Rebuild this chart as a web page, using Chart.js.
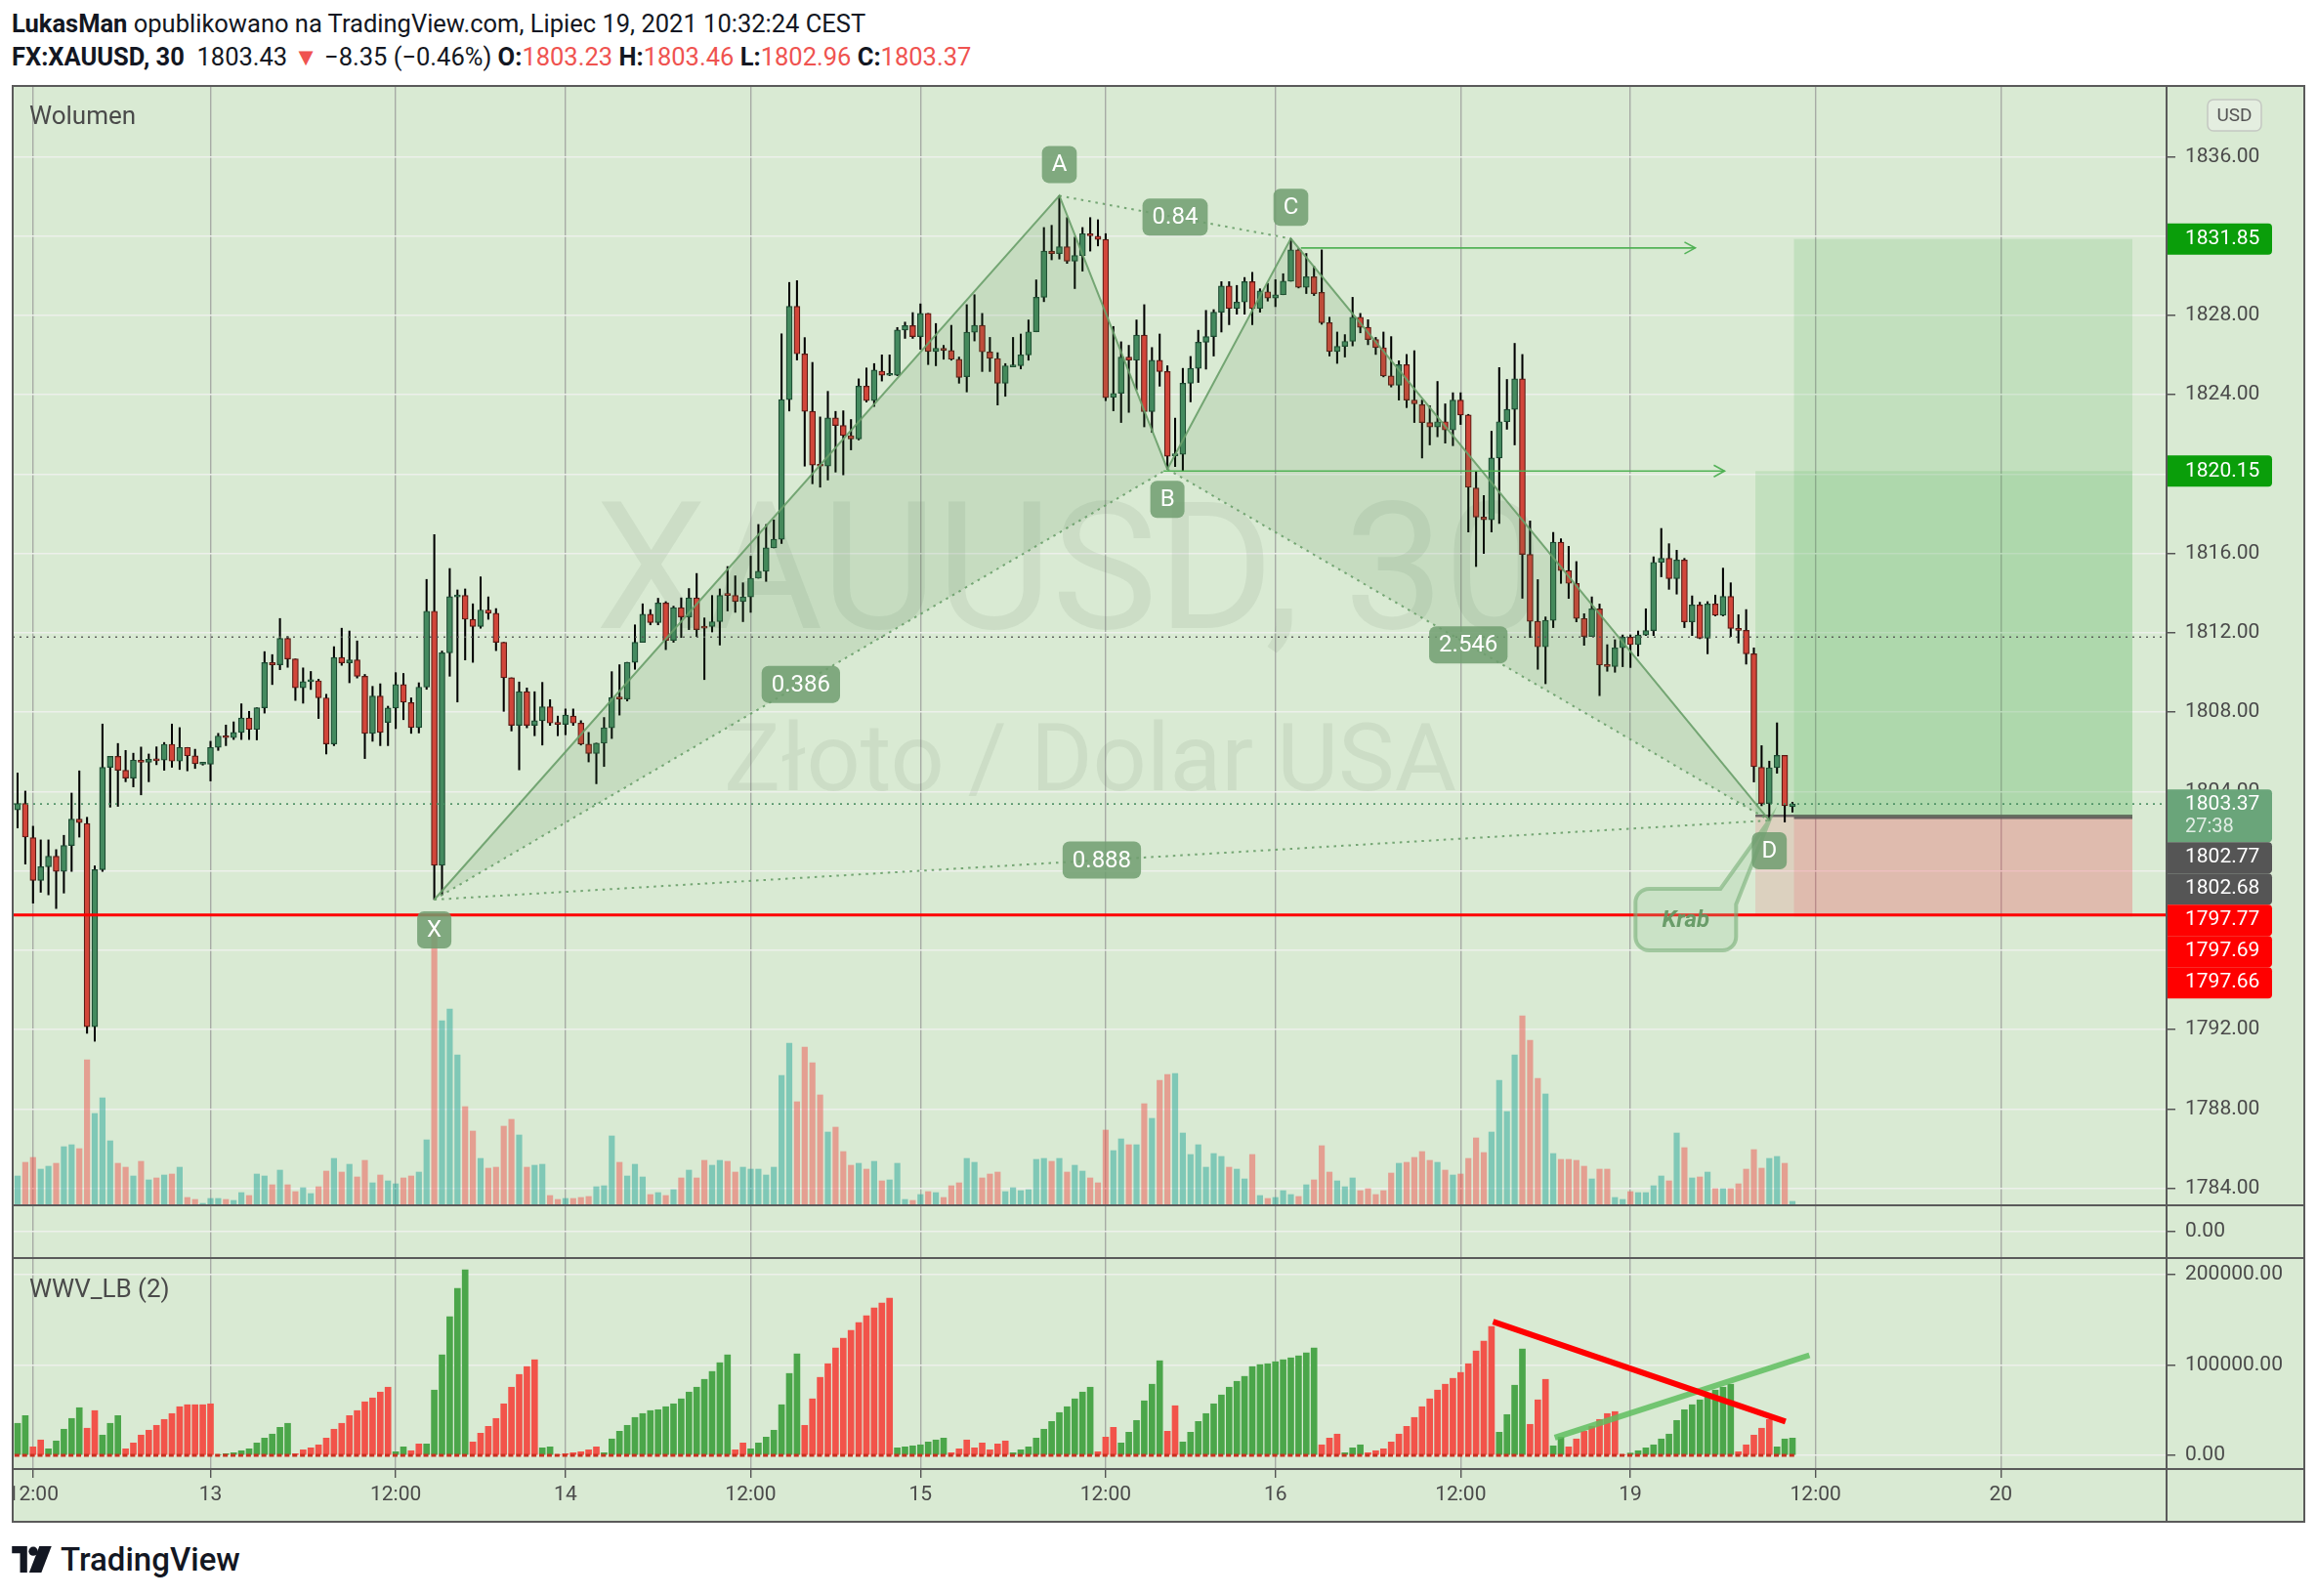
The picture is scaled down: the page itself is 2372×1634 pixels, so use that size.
<!DOCTYPE html>
<html><head><meta charset="utf-8">
<script src="https://cdn.jsdelivr.net/npm/chart.js@4.4.0/dist/chart.umd.min.js"></script>
<style>
html,body{margin:0;padding:0;background:#fff;}
body{width:2372px;height:1634px;position:relative;overflow:hidden;font-family:Roboto,"Liberation Sans",sans-serif;}
canvas{position:absolute;}
.hdr{position:absolute;left:12px;font-size:25.5px;line-height:32px;color:#131722;white-space:nowrap;}
.hdr b{font-weight:700;}
.red{color:#ef5350;}
.ln{position:absolute;background:#5a5a5a;}
#logo{position:absolute;left:12px;top:1578px;height:36px;display:flex;align-items:center;font-size:33px;font-weight:500;color:#131722;}
</style></head><body>
<div class="hdr" style="top:8px"><b>LukasMan</b> opublikowano na TradingView.com, Lipiec 19, 2021 10:32:24 CEST</div>
<div class="hdr" id="hdr2" style="top:42px"></div>

<canvas id="cMain" width="2346" height="1146" style="left:13px;top:88px"></canvas>
<canvas id="cEmpty" width="2346" height="54" style="left:13px;top:1234px"></canvas>
<canvas id="cWwv" width="2346" height="270" style="left:13px;top:1288px"></canvas>

<div class="ln" style="left:12px;top:87px;width:2348px;height:2px"></div>
<div class="ln" style="left:12px;top:1557px;width:2348px;height:2px"></div>
<div class="ln" style="left:12px;top:87px;width:2px;height:1472px"></div>
<div class="ln" style="left:2358px;top:87px;width:2px;height:1472px"></div>
<div class="ln" style="left:2217px;top:87px;width:2px;height:1472px"></div>
<div class="ln" style="left:12px;top:1233px;width:2348px;height:2px"></div>
<div class="ln" style="left:12px;top:1287px;width:2348px;height:2px"></div>
<div class="ln" style="left:12px;top:1503px;width:2348px;height:2px"></div>

<div id="logo"><svg width="42" height="27" viewBox="0 0 40 26" style="margin-right:8px"><path d="M0 0h15v26H8V7H0z" fill="#131722"/><circle cx="21" cy="5" r="4.5" fill="#131722"/><path d="M27 0h12L29 26H17z" fill="#131722"/></svg>TradingView</div>

<script>
// ---------------- DATA ----------------
const openP = [1803.07,1803.40,1801.67,1799.52,1800.21,1800.74,1799.97,1801.28,1802.61,1802.39,
1792.14,1800.06,1805.22,1805.77,1805.07,1804.67,1805.58,1805.47,1805.62,1805.58,
1806.38,1805.53,1806.22,1805.80,1805.38,1805.38,1806.22,1806.80,1806.71,1806.98,
1807.70,1807.13,1808.22,1810.50,1810.39,1811.72,1810.68,1809.23,1809.54,1809.58,
1808.72,1806.40,1810.76,1810.48,1810.63,1809.81,1806.93,1808.81,1807.48,1808.21,
1809.39,1808.48,1807.22,1809.26,1813.09,1800.28,1810.99,1813.81,1813.88,1812.68,
1812.32,1813.15,1812.98,1811.52,1809.73,1807.33,1809.03,1807.33,1807.57,1808.27,
1807.45,1807.38,1807.80,1807.45,1806.39,1805.92,1806.44,1807.21,1808.74,1808.66,
1810.51,1811.52,1812.94,1812.51,1813.50,1811.62,1813.27,1812.80,1813.76,1812.32,
1812.32,1812.56,1813.93,1813.88,1813.57,1813.81,1814.75,1815.10,1816.28,1816.71,
1823.75,1828.46,1826.06,1823.16,1820.45,1820.40,1822.83,1822.45,1821.94,1821.77,
1824.43,1823.70,1825.19,1824.98,1824.98,1827.26,1827.48,1826.93,1828.10,1826.18,
1826.34,1826.23,1825.79,1824.91,1827.15,1827.50,1826.16,1825.83,1824.58,1825.40,
1825.46,1826.01,1827.17,1828.91,1831.24,1831.11,1831.46,1830.73,1831.02,1832.12,
1831.99,1831.83,1823.87,1824.07,1825.90,1825.74,1827.00,1823.15,1825.74,1825.17,
1820.92,1821.00,1824.58,1825.33,1826.65,1826.93,1828.16,1829.48,1828.35,1828.67,
1829.70,1828.35,1829.19,1828.87,1829.04,1829.72,1831.30,1829.42,1829.95,1829.16,
1827.63,1826.18,1826.44,1826.69,1827.91,1827.40,1826.78,1826.37,1824.95,1824.48,
1825.52,1823.73,1823.50,1822.60,1822.37,1822.64,1822.22,1823.73,1822.98,1819.30,
1817.83,1817.70,1820.81,1822.64,1823.26,1824.80,1815.95,1812.58,1811.29,1812.63,
1816.57,1815.14,1814.49,1812.72,1811.81,1813.21,1810.38,1810.30,1811.24,1811.78,
1811.40,1811.89,1812.11,1815.55,1815.75,1814.73,1815.67,1812.55,1813.40,1811.73,
1813.45,1812.88,1813.83,1812.22,1812.12,1810.94,1805.22,1803.39,1805.20,1805.82,
1803.23];
const highP = [1804.93,1804.02,1802.25,1801.56,1801.56,1801.07,1801.79,1803.92,1805.04,1802.70,
1800.25,1807.40,1805.77,1806.42,1806.07,1805.93,1806.24,1805.89,1806.25,1806.47,
1807.40,1807.22,1806.22,1806.13,1805.45,1806.53,1806.93,1807.35,1807.51,1808.42,
1808.04,1808.22,1811.05,1810.90,1812.72,1811.81,1810.68,1810.23,1810.05,1809.66,
1808.90,1811.30,1812.23,1812.09,1811.59,1809.90,1809.30,1809.43,1808.30,1809.99,
1809.95,1808.72,1809.48,1814.69,1816.95,1811.08,1815.24,1814.16,1814.21,1813.46,
1814.82,1813.81,1813.22,1811.52,1809.73,1809.52,1809.22,1809.03,1809.50,1808.63,
1807.80,1808.16,1808.16,1807.57,1806.98,1806.44,1807.73,1810.04,1810.39,1810.51,
1812.40,1813.46,1813.17,1813.74,1813.57,1813.34,1813.76,1814.23,1814.99,1812.75,
1813.88,1814.21,1815.34,1814.87,1814.52,1815.86,1817.46,1817.46,1817.69,1827.07,
1829.66,1829.75,1826.88,1825.63,1822.88,1824.17,1823.16,1823.19,1822.75,1824.80,
1825.35,1825.57,1826.01,1826.01,1827.39,1827.66,1828.14,1828.58,1828.10,1827.59,
1826.49,1827.50,1825.90,1828.54,1829.04,1828.10,1826.89,1826.12,1825.57,1826.89,
1827.06,1827.77,1829.79,1832.43,1832.54,1834.03,1832.93,1831.94,1832.43,1832.93,
1832.82,1832.12,1827.44,1826.67,1826.49,1827.77,1828.54,1826.38,1827.06,1825.46,
1822.82,1825.33,1825.93,1827.25,1828.25,1828.29,1829.70,1829.70,1829.51,1829.91,
1830.17,1829.34,1829.61,1829.80,1830.10,1831.87,1831.36,1831.12,1830.47,1831.30,
1827.91,1827.16,1827.03,1828.91,1828.10,1827.78,1826.89,1827.16,1826.93,1825.71,
1826.03,1826.22,1823.73,1823.45,1824.67,1823.54,1824.10,1824.10,1823.01,1820.15,
1818.92,1822.16,1825.37,1824.77,1826.59,1826.03,1817.64,1814.68,1812.80,1817.06,
1816.74,1816.36,1815.59,1812.96,1813.81,1813.45,1811.40,1811.65,1811.89,1811.89,
1812.09,1813.21,1815.83,1817.26,1816.49,1816.16,1815.75,1813.86,1813.54,1813.57,
1813.90,1815.26,1814.52,1812.91,1813.17,1811.24,1806.31,1805.53,1807.46,1805.82,
1803.46];
const lowP = [1802.16,1800.34,1798.37,1798.92,1798.79,1798.10,1798.88,1799.97,1801.70,1791.81,
1791.41,1799.97,1803.21,1803.25,1804.49,1804.23,1803.83,1804.49,1805.35,1805.07,
1805.22,1805.11,1805.04,1805.16,1805.33,1804.53,1806.07,1806.31,1806.62,1806.62,
1806.62,1806.60,1807.95,1809.39,1810.14,1810.26,1808.59,1808.45,1809.14,1807.68,
1805.89,1806.31,1810.36,1809.48,1809.72,1805.66,1806.53,1806.31,1806.31,1807.17,
1807.62,1806.93,1806.95,1809.15,1798.55,1798.79,1809.81,1808.51,1810.63,1810.51,
1812.23,1812.68,1811.10,1808.04,1807.05,1805.09,1807.21,1806.81,1806.34,1807.33,
1806.81,1806.86,1807.33,1806.34,1805.49,1804.39,1805.26,1806.67,1807.85,1808.56,
1810.16,1811.52,1812.40,1812.40,1811.15,1811.52,1811.76,1812.16,1811.81,1809.64,
1812.04,1811.38,1813.10,1813.03,1812.56,1813.03,1814.75,1814.59,1816.28,1816.50,
1823.18,1825.75,1820.40,1819.51,1819.34,1819.70,1820.10,1819.96,1821.22,1821.72,
1823.63,1823.41,1824.69,1824.96,1824.96,1826.84,1826.84,1826.29,1825.52,1825.46,
1825.79,1825.74,1824.58,1824.14,1826.71,1825.17,1825.17,1823.48,1823.92,1825.40,
1825.30,1825.74,1827.17,1828.69,1830.80,1830.84,1830.62,1829.35,1830.23,1831.24,
1831.50,1823.70,1823.19,1822.60,1823.11,1824.25,1822.38,1822.10,1824.43,1820.25,
1820.38,1820.15,1823.64,1824.62,1825.29,1825.95,1827.16,1827.53,1828.06,1828.06,
1827.53,1828.16,1828.72,1828.44,1829.04,1829.72,1829.38,1829.10,1829.00,1827.55,
1825.95,1825.58,1825.90,1826.46,1827.12,1826.52,1826.03,1824.90,1824.39,1823.73,
1823.35,1822.60,1820.81,1821.47,1821.88,1821.56,1821.43,1822.50,1817.08,1815.34,
1816.00,1817.08,1817.51,1822.26,1821.47,1813.74,1811.76,1810.16,1809.43,1812.26,
1814.49,1813.73,1812.55,1811.37,1811.81,1808.83,1810.06,1810.01,1810.29,1810.25,
1810.83,1811.86,1811.86,1814.82,1814.19,1813.95,1812.26,1811.86,1811.70,1810.94,
1812.85,1812.85,1811.81,1811.48,1810.42,1804.48,1803.28,1802.54,1804.92,1802.46,
1802.96];
const closeP = [1803.40,1801.70,1799.52,1800.21,1800.74,1799.97,1801.28,1802.61,1802.43,1792.14,
1800.06,1805.22,1805.77,1805.07,1804.67,1805.58,1805.47,1805.62,1805.55,1806.38,
1805.53,1806.22,1805.80,1805.40,1805.40,1806.22,1806.80,1806.71,1806.98,1807.70,
1807.13,1808.22,1810.50,1810.39,1811.72,1810.68,1809.23,1809.54,1809.58,1808.72,
1806.40,1810.76,1810.48,1810.63,1809.81,1806.93,1808.81,1806.98,1808.21,1809.39,
1808.50,1807.22,1809.26,1813.09,1800.28,1810.99,1813.82,1813.88,1812.68,1812.32,
1813.15,1812.98,1811.52,1809.73,1807.33,1809.03,1807.33,1807.57,1808.27,1807.45,
1807.38,1807.85,1807.45,1806.39,1805.92,1806.44,1807.21,1808.74,1808.66,1810.51,
1811.52,1812.94,1812.51,1813.50,1811.62,1813.27,1812.80,1813.76,1812.16,1812.23,
1812.56,1813.88,1813.88,1813.57,1813.81,1814.75,1815.10,1816.28,1816.71,1823.75,
1828.46,1826.06,1823.16,1820.45,1820.40,1822.83,1822.45,1821.94,1821.77,1824.43,
1823.70,1825.24,1824.98,1825.02,1827.26,1827.48,1826.93,1828.10,1826.18,1826.34,
1826.23,1825.79,1824.87,1827.15,1827.50,1826.16,1825.83,1824.58,1825.46,1825.46,
1826.01,1827.17,1828.91,1831.24,1831.11,1831.46,1830.73,1831.02,1832.12,1832.01,
1831.83,1823.85,1824.07,1825.90,1825.74,1827.00,1823.15,1825.74,1825.17,1820.90,
1821.00,1824.58,1825.33,1826.65,1826.93,1828.16,1829.48,1828.35,1828.67,1829.70,
1828.35,1829.23,1828.87,1829.04,1829.72,1831.30,1829.42,1829.95,1829.10,1827.63,
1826.18,1826.44,1826.69,1827.91,1827.40,1826.78,1826.37,1824.95,1824.48,1825.52,
1823.73,1823.54,1822.60,1822.37,1822.64,1822.22,1823.73,1822.98,1819.34,1817.83,
1817.70,1820.81,1822.64,1823.26,1824.80,1815.95,1812.58,1811.29,1812.63,1816.57,
1815.14,1814.49,1812.72,1811.81,1813.21,1810.38,1810.30,1811.24,1811.78,1811.40,
1811.89,1812.11,1815.55,1815.75,1814.73,1815.67,1812.55,1813.40,1811.73,1813.45,
1812.88,1813.83,1812.22,1812.12,1810.94,1805.25,1803.39,1805.20,1805.82,1803.28,
1803.37];
const volume = [900,1320,1470,1110,1200,1290,1800,1860,1740,4470,
2820,3300,1980,1290,1170,900,1350,780,840,930,
960,1170,240,180,60,210,210,180,150,390,
300,960,900,630,1080,630,420,540,360,570,
1050,1440,1020,1260,870,1380,690,930,750,660,
840,900,1020,2010,8520,5670,6030,4620,3030,2280,
1440,1140,1170,2430,2640,2160,1170,1230,1260,300,
180,210,210,240,270,570,600,2130,1320,900,
1260,870,330,390,300,480,840,1080,840,1380,
1230,1380,1350,1020,1170,1110,1110,930,1170,3990,
4980,3180,4860,4380,3390,2250,2400,1650,1230,1290,
1110,1350,750,780,1290,180,150,330,420,390,
240,600,690,1440,1320,840,960,1020,420,540,
450,480,1410,1440,1350,1440,1020,1230,1050,840,
690,2310,1680,2040,1860,1860,3120,2670,3840,4020,
4050,2220,1560,1860,1170,1590,1500,1170,1110,810,
1560,300,210,240,450,330,270,630,780,1830,
1020,750,570,840,450,510,330,450,990,1290,
1320,1470,1650,1380,1320,1080,930,960,1440,2070,
1620,2250,3840,2880,4620,5820,5070,3900,3420,1590,
1410,1410,1380,1200,810,1110,1110,240,180,420,
390,390,600,900,750,2220,1770,840,870,1020,
510,510,510,660,1110,1710,1140,1440,1500,1290,
120];
// WWV_LB (2): sign = wave direction (+ up / - down), magnitude = wave volume
const wwv = [35400,44000,-9400,-17000,7200,15900,28900,40800,52700,-30000,
-49500,22400,35400,44000,-7200,-13700,-22400,-27800,-33200,-39700,
-46200,-53800,-56000,-56000,-56000,-57000,700,1800,2900,5100,
7200,13700,19100,23500,31000,35400,-1800,-6100,-8300,-11600,
-19100,-28900,-35400,-44000,-49500,-59200,-63500,-70000,-75400,4000,
9400,-5100,-12600,12600,72200,111200,153400,184800,205400,-14800,
-24500,-32100,-40800,-57000,-75400,-89500,-98200,-105800,8300,9400,
-700,-1800,-2900,-4000,-6100,-9400,2900,18100,26700,33200,
41900,46200,49500,50500,53800,57000,62500,70000,75400,84100,
92800,102500,111200,-6100,-13700,7200,13700,20200,27800,56000,
90600,112300,-33200,-62500,-86300,-101400,-118800,-129600,-138300,-146900,
-154500,-163200,-168600,-174000,8300,9400,10500,11600,14800,17000,
19100,-2900,-7200,-17000,-8300,-13700,-6100,-12600,-15900,2900,
6100,9400,19100,28900,37500,47300,53800,62500,70000,75400,
-4000,-20200,-31000,13700,25600,38600,60300,78700,104700,-26700,
-54900,14800,25600,37500,46200,57000,66800,75400,81900,87400,
98200,100400,101400,103600,105800,107900,110100,113400,118800,-11600,
-19100,-23500,2900,8300,11600,-2900,-5100,-7200,-14800,-23500,
-32100,-41900,-53800,-62500,-72200,-78700,-85200,-91700,-101400,-115500,
-126400,-142600,25600,45100,77600,117700,-34300,-61400,-84100,10500,
20200,-9400,-18100,-26700,-32100,-39700,-46200,-48400,-700,2500,
5100,8300,11600,18100,23500,38600,50500,56000,61400,66800,
72200,75400,78700,-4000,-11600,-22400,-30000,-39700,9400,18100,
19100];

// time axis (bar index -> label)
const xTickIdx = [2,25,49,71,95,117,141,163,187,209,233,257];
const xTickLbl = ['12:00','13','12:00','14','12:00','15','12:00','16','12:00','19','12:00','20'];
const priceTicks = [1784,1788,1792,1796,1800,1804,1808,1812,1816,1820,1824,1828,1832,1836];
const priceTicksHidden = [1796,1800,1820,1832];
const wwvTicks = [0,100000,200000];

// harmonic pattern (Krab)
const patNames = ['X','A','B','C','D'];
const patIdx = [54,135,149,165,227];
const patPrice = [1798.55,1834.03,1820.25,1831.87,1802.54];
const ratioPairs = [[0,2],[1,3],[2,4],[0,4]];
const ratioText = ['0.386','0.84','2.546','0.888'];
const patternTitle = 'Krab';

// levels
const supportLevel = 1797.77;
const prevClose = 1811.78;
const lastPrice = 1803.37;
const arrowC = {from:166.3, to:217.4, price:1831.40};
const arrowB = {from:148.5, to:221.2, price:1820.15};

// long positions
const posStart = [225.2, 230.2];
const posEnd = 274.05;
const posEntry = [1802.77, 1802.68];
const posTarget = [1820.15, 1831.85];
const posStop = [1797.77, 1797.69];

// price tags on axis
const tagPrices = [1831.85,1820.15,1803.37,1802.77,1802.68,1797.77,1797.69,1797.66];
const tagKinds = ['tp','tp','last','entry','entry','stop','stop','stop'];
const countdown = '27:38';

// WWV trend lines
const wwvRedLine = [{x:191.2,y:148000},{x:229.1,y:37500}];
const wwvGreenLine = [{x:199.2,y:19500},{x:232.2,y:110800}];

// header quote
const quoteText = ['1803.43','−8.35 (−0.46%)'];

// ---------------- LAYOUT / STYLE ----------------
const XMIN = -0.633, XMAX = 278.48;
const Y_MIN = 1783.14, Y_MAX = 1839.565;
const VOL_MAX = 34380;
const WWV_MIN = -15135, WWV_MAX = 218378;
const FONT = 'Roboto, "Liberation Sans", sans-serif';
const BG = '#d9ead3';
const VGRID = 'rgba(150,150,150,0.75)';
const HGRID = 'rgba(238,240,236,0.95)';
const AXC = '#4a4a4a';
const AXIS_W = 141;
Chart.defaults.font.family = FONT;

const N = openP.length;
const up = openP.map((o,i)=>closeP[i]>=o);

document.getElementById('hdr2').innerHTML =
  '<b>FX:XAUUSD, 30</b>&nbsp; ' + quoteText[0] + ' <span class="red">▼</span> ' + quoteText[1] +
  ' <b>O:</b><span class="red">' + openP[N-1].toFixed(2) + '</span> <b>H:</b><span class="red">' + highP[N-1].toFixed(2) +
  '</span> <b>L:</b><span class="red">' + lowP[N-1].toFixed(2) + '</span> <b>C:</b><span class="red">' + closeP[N-1].toFixed(2) + '</span>';

function roundRect(ctx,x,y,w,h,r){ctx.beginPath();ctx.moveTo(x+r,y);ctx.arcTo(x+w,y,x+w,y+h,r);ctx.arcTo(x+w,y+h,x,y+h,r);ctx.arcTo(x,y+h,x,y,r);ctx.arcTo(x,y,x+w,y,r);ctx.closePath();}
function bgPlugin(){return {id:'bg',beforeDraw(c){const ctx=c.ctx;ctx.save();ctx.fillStyle=BG;ctx.fillRect(0,0,c.width,c.height);ctx.restore();}};}
function xScale(showLabels){
  return {type:'linear',min:XMIN,max:XMAX,offset:false,
    afterBuildTicks:s=>{s.ticks=xTickIdx.map(v=>({value:v}));},
    ticks:{display:showLabels,autoSkip:false,maxRotation:0,minRotation:0,color:AXC,font:{size:21},padding:5,
      callback:v=>{const k=xTickIdx.indexOf(v);return k>=0?xTickLbl[k]:'';}},
    grid:{offset:false,color:VGRID,lineWidth:1.4,drawTicks:showLabels,tickLength:9,tickColor:'#555'},
    border:{display:false},
    afterFit:s=>{s.height=showLabels?54:0;s.paddingLeft=0;s.paddingRight=0;}};
}
function yFit(s){s.width=AXIS_W;s.paddingTop=0;s.paddingBottom=0;}

const pat = patIdx.map((x,k)=>({x,y:patPrice[k]}));
const PAT_LINE='rgba(105,158,105,0.9)', PAT_FILL='rgba(70,130,70,0.13)';
const hLine=(y,color,width,dash,order)=>({type:'line',yAxisID:'y',data:[{x:XMIN,y},{x:XMAX,y}],borderColor:color,borderWidth:width,borderDash:dash||[],pointRadius:0,fill:false,order:order});
const seg=(a,b,color,width,dash,order)=>({type:'line',yAxisID:'y',data:[a,b],borderColor:color,borderWidth:width,borderDash:dash||[],pointRadius:0,fill:false,order:order});

const mainPlugin = {
  id:'mainOverlay',
  beforeDatasetsDraw(c){
    const ctx=c.ctx, xs=c.scales.x, ys=c.scales.y;
    ctx.save();
    ctx.fillStyle='rgba(70,90,70,0.085)';ctx.textAlign='center';ctx.textBaseline='alphabetic';
    const fit=(t,w,cx,by)=>{ctx.font='100px '+FONT;const m=ctx.measureText(t).width;ctx.font=(100*w/m)+'px '+FONT;ctx.fillText(t,cx,by);};
    fit('XAUUSD, 30',971,1082,555);
    fit('Złoto / Dolar USA',750,1103,721);
    for(let k=0;k<posStart.length;k++){
      const x0=xs.getPixelForValue(posStart[k]),x1=xs.getPixelForValue(posEnd);
      const yE=ys.getPixelForValue(posEntry[k]),yT=ys.getPixelForValue(posTarget[k]),yS=ys.getPixelForValue(posStop[k]);
      ctx.fillStyle='rgba(76,175,80,0.16)';ctx.fillRect(x0,yT,x1-x0,yE-yT);
      ctx.fillStyle='rgba(242,54,69,0.14)';ctx.fillRect(x0,yE,x1-x0,yS-yE);
      ctx.strokeStyle='rgba(95,90,90,0.9)';ctx.lineWidth=2.5;ctx.beginPath();ctx.moveTo(x0,yE);ctx.lineTo(x1,yE);ctx.stroke();
    }
    ctx.restore();
  },
  afterDatasetsDraw(c){
    const ctx=c.ctx, xs=c.scales.x, ys=c.scales.y;
    const P=pat.map(p=>({x:xs.getPixelForValue(p.x),y:ys.getPixelForValue(p.y)}));
    ctx.save();
    ctx.strokeStyle='rgba(76,175,80,0.95)';ctx.lineWidth=1.6;
    [arrowC,arrowB].forEach(a=>{const x=xs.getPixelForValue(a.to),y=ys.getPixelForValue(a.price);
      ctx.beginPath();ctx.moveTo(x-11,y-6);ctx.lineTo(x,y);ctx.lineTo(x-11,y+6);ctx.stroke();});
    const D=P[4];
    const L=D.x-137,R=D.x-34,T=D.y+70,B=D.y+133,r=14;
    ctx.beginPath();ctx.moveTo(L+r,T);ctx.lineTo(D.x-50,T);ctx.lineTo(D.x,D.y);ctx.lineTo(R,T+16);ctx.lineTo(R,B-r);
    ctx.arcTo(R,B,R-r,B,r);ctx.lineTo(L+r,B);ctx.arcTo(L,B,L,B-r,r);ctx.lineTo(L,T+r);ctx.arcTo(L,T,L+r,T,r);ctx.closePath();
    ctx.fillStyle='rgba(160,205,160,0.25)';ctx.fill();
    ctx.strokeStyle='rgba(120,175,120,0.6)';ctx.lineWidth=4;ctx.stroke();
    ctx.fillStyle='rgba(95,150,95,0.9)';ctx.font='italic bold 24px '+FONT;ctx.textAlign='center';ctx.textBaseline='middle';
    ctx.fillText(patternTitle,(L+R)/2,(T+B)/2+2);
    const box=(t,cx,cy)=>{ctx.font='24px '+FONT;const w=Math.max(32,ctx.measureText(t).width+20),h=38;
      roundRect(ctx,cx-w/2,cy-h/2,w,h,7);ctx.fillStyle='rgba(112,158,112,0.85)';ctx.fill();
      ctx.fillStyle='#fff';ctx.textAlign='center';ctx.textBaseline='middle';ctx.fillText(t,cx,cy+1);};
    ratioPairs.forEach((pr,k)=>{const a=P[pr[0]],b=P[pr[1]];box(ratioText[k],(a.x+b.x)/2,(a.y+b.y)/2);});
    P.forEach((p,k)=>{const above=(k===1||k===3);box(patNames[k],p.x,above?p.y-32:p.y+31);});
    ctx.restore();
  },
  afterDraw(c){
    const ctx=c.ctx, ys=c.scales.y, ca=c.chartArea;
    ctx.save();
    ctx.fillStyle=AXC;ctx.font='26px '+FONT;ctx.textAlign='left';ctx.textBaseline='middle';
    ctx.fillText('Wolumen',17,32);
    roundRect(ctx,ca.right+42,14,55,32,6);ctx.fillStyle='#e4eee0';ctx.fill();ctx.strokeStyle='#c4c8c2';ctx.lineWidth=1.5;ctx.stroke();
    ctx.fillStyle='#555';ctx.font='19px '+FONT;ctx.textAlign='center';ctx.fillText('USD',ca.right+69.5,31);
    const col={tp:'#0a9e0a',last:'#6aa57a',entry:'#555555',stop:'#ff0000'};
    let prevBottom=-1e9;
    tagPrices.forEach((p,k)=>{
      const kind=tagKinds[k];const y=ys.getPixelForValue(p);const h=kind==='last'?54:32;
      let top=kind==='last'?y-15:y-16; if(top<prevBottom) top=prevBottom;
      ctx.fillStyle=col[kind];
      ctx.beginPath();ctx.moveTo(ca.right,top);ctx.lineTo(ca.right+104,top);ctx.arcTo(ca.right+108,top,ca.right+108,top+4,4);
      ctx.lineTo(ca.right+108,top+h-4);ctx.arcTo(ca.right+108,top+h,ca.right+104,top+h,4);ctx.lineTo(ca.right,top+h);ctx.closePath();ctx.fill();
      ctx.fillStyle='#fff';ctx.font='21px '+FONT;ctx.textAlign='left';ctx.textBaseline='middle';
      ctx.fillText(p.toFixed(2),ca.right+19,top+16);
      if(kind==='last'){ctx.fillStyle='rgba(255,255,255,0.8)';ctx.font='20px '+FONT;ctx.fillText(countdown,ca.right+19,top+39);}
      prevBottom=top+h;
    });
    ctx.restore();
  }
};

new Chart(document.getElementById('cMain'),{
  type:'bar',
  data:{datasets:[
    {type:'bar',yAxisID:'yv',data:volume.map((v,i)=>({x:i,y:v})),backgroundColor:up.map(u=>u?'rgba(38,166,154,0.5)':'rgba(239,83,80,0.5)'),barThickness:5.5,grouped:false,order:20},
    {type:'bar',yAxisID:'y',data:highP.map((h,i)=>({x:i,y:[lowP[i],h]})),backgroundColor:'#000',barThickness:1.4,grouped:false,order:18},
    {type:'bar',yAxisID:'y',data:openP.map((o,i)=>({x:i,y:[o,closeP[i]]})),backgroundColor:up.map(u=>u?'#448a5f':'#d2463a'),borderColor:up.map(u=>u?'#1c4a31':'#5a1a14'),borderWidth:1.2,borderSkipped:false,barThickness:6,minBarLength:2,grouped:false,order:16},
    {type:'line',yAxisID:'y',data:[pat[0],pat[1],pat[2]],borderColor:PAT_LINE,borderWidth:2,backgroundColor:PAT_FILL,fill:'shape',pointRadius:0,order:10},
    {type:'line',yAxisID:'y',data:[pat[2],pat[3],pat[4]],borderColor:PAT_LINE,borderWidth:2,backgroundColor:PAT_FILL,fill:'shape',pointRadius:0,order:10},
    seg(pat[0],pat[2],PAT_LINE,2,[2.5,5],9),
    seg(pat[1],pat[3],PAT_LINE,2,[2.5,5],9),
    seg(pat[2],pat[4],PAT_LINE,2,[2.5,5],9),
    seg(pat[0],pat[4],PAT_LINE,2,[2.5,5],9),
    seg({x:arrowC.from,y:arrowC.price},{x:arrowC.to,y:arrowC.price},'rgba(76,175,80,0.95)',1.6,[],8),
    seg({x:arrowB.from,y:arrowB.price},{x:arrowB.to,y:arrowB.price},'rgba(76,175,80,0.95)',1.6,[],8),
    hLine(prevClose,'rgba(85,85,85,0.9)',1.6,[2,5],7),
    hLine(lastPrice,'rgba(70,140,95,0.9)',1.6,[2,5],7),
    hLine(supportLevel,'#ff0000',3,[],6)
  ]},
  options:{responsive:false,animation:false,events:[],layout:{padding:0},
    plugins:{legend:{display:false},tooltip:{enabled:false}},
    scales:{
      x:xScale(false),
      y:{position:'right',min:Y_MIN,max:Y_MAX,
        afterBuildTicks:s=>{s.ticks=priceTicks.map(v=>({value:v}));},
        ticks:{color:AXC,font:{size:21},padding:10,callback:v=>priceTicksHidden.includes(v)?'':v.toFixed(2)},
        grid:{color:HGRID,lineWidth:1.5,tickLength:9,tickColor:'#555'},
        border:{display:true,color:'#555',width:2},afterFit:yFit},
      yv:{display:false,min:0,max:VOL_MAX}
    }},
  plugins:[bgPlugin(),mainPlugin]
});

new Chart(document.getElementById('cEmpty'),{
  type:'bar',
  data:{datasets:[{type:'bar',data:[],yAxisID:'y'}]},
  options:{responsive:false,animation:false,events:[],layout:{padding:0},
    plugins:{legend:{display:false},tooltip:{enabled:false}},
    scales:{x:xScale(false),
      y:{position:'right',min:-1,max:1,afterBuildTicks:s=>{s.ticks=[{value:0}];},
        ticks:{color:AXC,font:{size:21},padding:10,callback:v=>v.toFixed(2)},
        grid:{color:HGRID,lineWidth:1.5,tickLength:9,tickColor:'#555'},
        border:{display:true,color:'#555',width:2},afterFit:yFit}}},
  plugins:[bgPlugin()]
});

new Chart(document.getElementById('cWwv'),{
  type:'bar',
  data:{datasets:[
    {type:'bar',data:wwv.map((v,i)=>({x:i,y:Math.abs(v)})),backgroundColor:wwv.map(v=>v>=0?'#4ba64a':'#f2534a'),barThickness:6,grouped:false,order:10},
    {type:'line',data:[{x:-0.4,y:0},{x:N-0.6,y:0}],borderColor:'#c9301f',borderWidth:3,borderDash:[5,2.9],pointRadius:0,fill:false,order:5},
    {type:'line',data:wwvGreenLine,borderColor:'rgba(95,190,95,0.85)',borderWidth:6,pointRadius:0,fill:false,order:4},
    {type:'line',data:wwvRedLine,borderColor:'#ff0000',borderWidth:6,pointRadius:0,fill:false,order:3}
  ]},
  options:{responsive:false,animation:false,events:[],layout:{padding:0},
    plugins:{legend:{display:false},tooltip:{enabled:false}},
    scales:{x:xScale(true),
      y:{position:'right',min:WWV_MIN,max:WWV_MAX,afterBuildTicks:s=>{s.ticks=wwvTicks.map(v=>({value:v}));},
        ticks:{color:AXC,font:{size:21},padding:10,callback:v=>v.toFixed(2)},
        grid:{color:HGRID,lineWidth:1.5,tickLength:9,tickColor:'#555'},
        border:{display:true,color:'#555',width:2},afterFit:yFit}}},
  plugins:[bgPlugin(),{id:'wwvTitle',afterDraw(c){const ctx=c.ctx;ctx.save();ctx.fillStyle=AXC;ctx.font='26px '+FONT;ctx.textAlign='left';ctx.textBaseline='middle';ctx.fillText('WWV_LB (2)',17,33);ctx.restore();}}]
});
</script>
</body></html>
